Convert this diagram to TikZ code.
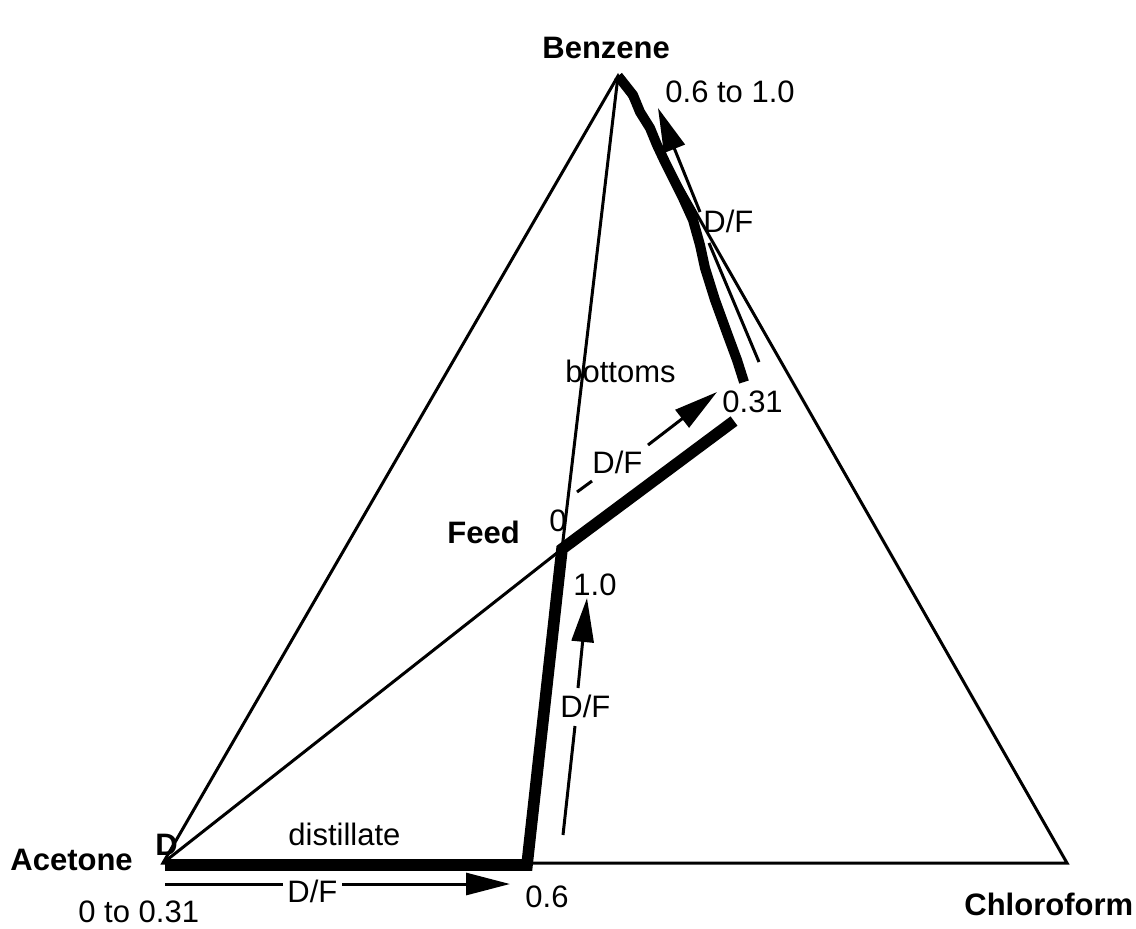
\documentclass[tikz,border=0pt]{standalone}
\usepackage{fontspec}
\setmainfont{Liberation Sans}
\usetikzlibrary{arrows.meta}
\begin{document}
\begin{tikzpicture}[x=0.5pt,y=-0.5pt,
  thinline/.style={line width=1.5pt},
  thickline/.style={line width=5.8pt, line join=miter},
  wavy/.style={line width=5pt, line join=round},
  flow/.style={line width=1.5pt, -{Triangle[length=22pt,width=11pt]}},
  lbl/.style={anchor=base west, inner sep=0pt, font=\fontsize{15.5}{18}\selectfont},
  blbl/.style={anchor=base west, inner sep=0pt, font=\fontsize{15.5}{18}\selectfont\bfseries}]
\useasboundingbox (0,0) rectangle (1136,928);
\fill[white] (0,0) rectangle (1136,928);
% vertices and key points
\coordinate (A) at (163,863);
\coordinate (B) at (618,76);
\coordinate (C) at (1067,863);
\coordinate (F) at (562,549);
\coordinate (A2) at (165,865);
\coordinate (P6) at (527,865);
\coordinate (P31) at (734,421);
\coordinate (bot) at (744,382);
% triangle and thin lines
\draw[thinline] (A) -- (B) -- (C) -- cycle;
\draw[thinline] (A) -- (F);
\draw[thinline] (B) -- (F);
% thick operating lines
\draw[thickline] (A2) -- (P6) -- (F) -- (P31);
\draw[wavy] (B) -- (633,95) -- (640,112) -- (650,128) -- (657,145) -- (665,162)
  -- (673,178) -- (683,198) -- (693,220) -- (700,245) -- (705,268) -- (715,300)
  -- (727,333) -- (737,360) -- (bot);
% arrows
\coordinate (t1) at (759,362); \coordinate (t2) at (709,243);
\coordinate (t3) at (700,212); \coordinate (t4) at (658,108);
\draw[thinline] (t1) -- (t2);
\draw[flow] (t3) -- (t4);
\coordinate (m1) at (577,492); \coordinate (m2) at (592,481);
\coordinate (m3) at (648,445); \coordinate (m4) at (717,392);
\draw[thinline] (m1) -- (m2);
\draw[flow] (m3) -- (m4);
\coordinate (v1) at (563,835); \coordinate (v2) at (575,726);
\coordinate (v3) at (578,688); \coordinate (v4) at (587,598);
\draw[thinline] (v1) -- (v2);
\draw[flow] (v3) -- (v4);
\coordinate (b1) at (165,884); \coordinate (b2) at (283,884);
\coordinate (b3) at (342,884); \coordinate (b4) at (510,884);
\draw[thinline] (b1) -- (b2);
\draw[flow] (b3) -- (b4);
% labels
\node[blbl] (benz) at (542,58) {Benzene};
\node[lbl] (r1) at (665,102) {0.6 to 1.0};
\node[lbl] (df1) at (703,232) {D/F};
\node[lbl] (bott) at (565,382) {bottoms};
\node[lbl] (r031) at (722,412) {0.31};
\node[lbl] (df2) at (592,473) {D/F};
\node[lbl] (zero) at (549,531) {0};
\node[blbl] (feed) at (447,543) {Feed};
\node[lbl] (one) at (573,595) {1.0};
\node[lbl] (df3) at (560,717) {D/F};
\node[lbl] (dist) at (288,845) {distillate};
\node[blbl] (dlab) at (155,855) {D};
\node[blbl] (acet) at (10,870) {Acetone};
\node[lbl] (r0) at (78,922) {0 to 0.31};
\node[lbl] (df4) at (287,902) {D/F};
\node[lbl] (r06) at (525,907) {0.6};
\node[blbl] (chl) at (964,915) {Chloroform};
\end{tikzpicture}
\end{document}
